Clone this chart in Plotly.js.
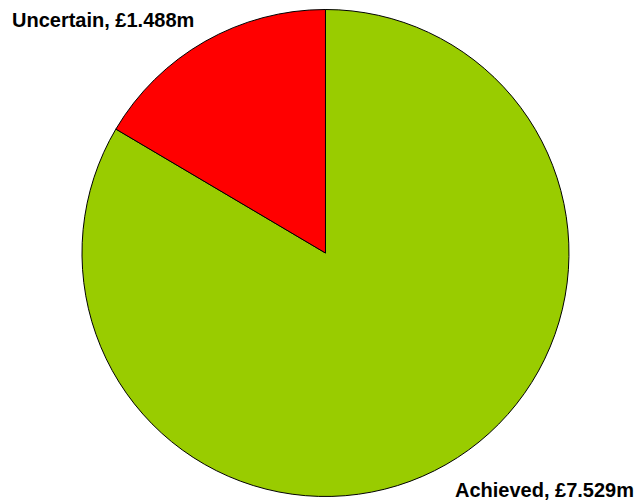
<!DOCTYPE html>
<html>
<head>
<meta charset="utf-8">
<script src="https://cdn.plot.ly/plotly-3.0.1.min.js"></script>
<style>html,body{margin:0;padding:0;background:#fff}#chart{width:637px;height:500px}</style>
</head>
<body>
<div id="chart"></div>
<script>
var categories = ["Achieved", "Uncertain"];
var values = [7.529, 1.488];
var colors = ["#99CC00", "#FF0000"];

var trace = {
  type: "pie",
  labels: categories,
  values: values,
  sort: false,
  direction: "clockwise",
  rotation: 0,
  textinfo: "none",
  hoverinfo: "label+value",
  marker: {colors: colors, line: {color: "#000000", width: 1}},
  domain: {x: [0.1287, 0.8932], y: [0.007, 0.981]},
  showlegend: false
};

function lbl(i) { return categories[i] + ", £" + values[i].toFixed(3) + "m"; }

var font = {family: "Liberation Sans, Arial, sans-serif", size: 20, color: "#000000"};
var layout = {
  width: 637, height: 500,
  margin: {l: 0, r: 0, t: 0, b: 0},
  paper_bgcolor: "#ffffff",
  showlegend: false,
  annotations: [
    {text: "<b>" + lbl(1) + "</b>", xref: "paper", yref: "paper", x: 10/637, y: 1 - 20/500, xanchor: "left", yanchor: "middle", showarrow: false, font: font},
    {text: "<b>" + lbl(0) + "</b>", xref: "paper", yref: "paper", x: 636/637, y: 1 - 490/500, xanchor: "right", yanchor: "middle", showarrow: false, font: font}
  ]
};
Plotly.newPlot("chart", [trace], layout, {displayModeBar: false, staticPlot: true});
</script>
</body>
</html>
